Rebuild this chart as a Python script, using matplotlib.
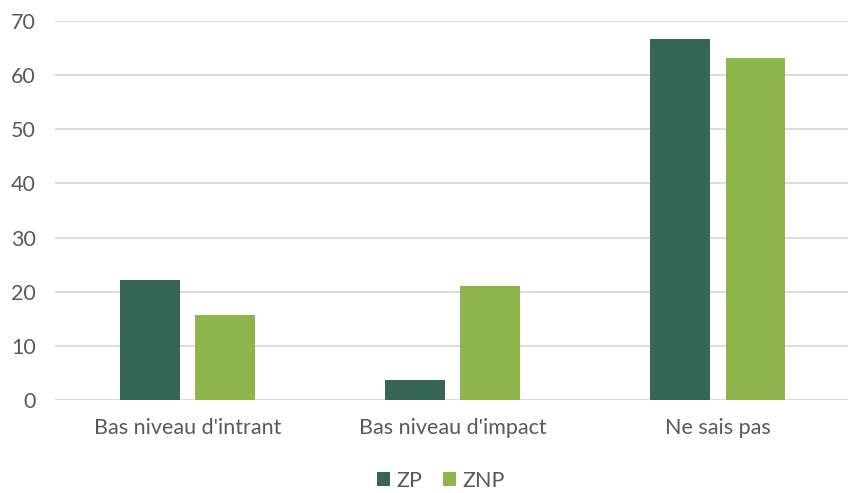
import numpy as np
import matplotlib.pyplot as plt

plt.rcParams['font.family'] = ['Lato', 'DejaVu Sans']

categories = ["Bas niveau d'intrant", "Bas niveau d'impact", "Ne sais pas"]
zp = [22.2, 3.7, 66.7]
znp = [15.7, 21.0, 63.2]
yticks = [0, 10, 20, 30, 40, 50, 60, 70]

TEXT = '#595959'
GRID = '#d9d9d9'

fig = plt.figure(figsize=(8.48, 4.93), dpi=100)
ax = fig.add_axes([0.065, 0.189, 0.938, 0.768])

x = np.arange(len(categories))
w = 0.226
off = 0.1415
ax.bar(x - off, zp, w, color='#376556', label='ZP', zorder=3)
ax.bar(x + off, znp, w, color='#8db54b', label='ZNP', zorder=3)

ax.set_xlim(-0.5, 2.5)
ax.set_ylim(0, 70)
ax.set_yticks(yticks)
ax.set_xticks(x)
ax.set_xticklabels(categories)
ax.yaxis.grid(True, color=GRID, linewidth=1.3, zorder=0)
ax.set_axisbelow(True)
for s in ax.spines.values():
    s.set_visible(False)
ax.tick_params(axis='both', length=0, colors=TEXT, labelsize=15.5)
ax.tick_params(axis='x', pad=13)
ax.tick_params(axis='y', pad=14)

fig.legend(loc='center', bbox_to_anchor=(0.52, 0.025), ncol=2, frameon=False,
           fontsize=15.5, labelcolor=TEXT, handlelength=0.6, handleheight=0.6,
           handletextpad=0.3, columnspacing=1.0)

fig.savefig('out.png', dpi=100)
